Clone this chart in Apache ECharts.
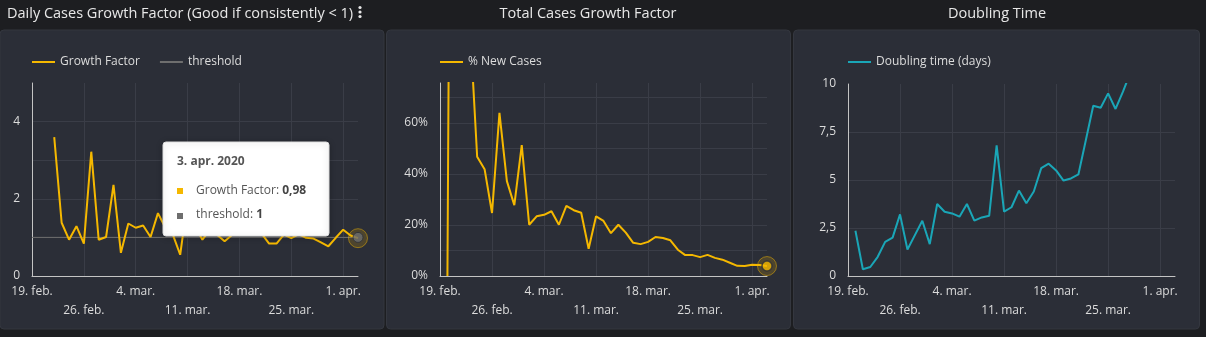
<!DOCTYPE html>
<html><head><meta charset="utf-8">
<script src="https://cdn.jsdelivr.net/npm/echarts@6/dist/echarts.min.js"></script>
<style>html,body{margin:0;padding:0;background:#1d1e21;overflow:hidden}#c{width:1206px;height:337px}</style>
</head><body><div id="c"></div>
<script>
const dates = ['2020-02-19','2020-02-20','2020-02-21','2020-02-22','2020-02-23','2020-02-24','2020-02-25','2020-02-26','2020-02-27','2020-02-28','2020-02-29',
'2020-03-01','2020-03-02','2020-03-03','2020-03-04','2020-03-05','2020-03-06','2020-03-07','2020-03-08','2020-03-09','2020-03-10','2020-03-11','2020-03-12','2020-03-13','2020-03-14','2020-03-15','2020-03-16','2020-03-17','2020-03-18','2020-03-19','2020-03-20','2020-03-21','2020-03-22','2020-03-23','2020-03-24','2020-03-25','2020-03-26','2020-03-27','2020-03-28','2020-03-29','2020-03-30','2020-03-31',
'2020-04-01','2020-04-02','2020-04-03'];
const monthNames = ['jan.','feb.','mar.','apr.'];
const growthFactor = [null,null,null,3.60,1.38,0.94,1.29,0.84,3.22,0.94,1.01,2.36,0.60,1.36,1.25,1.31,1.01,1.63,1.25,1.08,0.55,1.95,1.28,0.94,1.19,1.06,0.90,1.06,1.15,1.25,1.18,1.10,0.84,0.84,1.07,0.98,1.08,0.99,0.97,0.87,0.77,0.99,1.20,1.05,0.98];
const thresholdValue = 1;
const newCasesPct = [null,0,500,200,100,46.8,41.9,24.7,64.0,37.2,27.8,51.3,20.1,23.4,24.0,25.4,20.1,27.5,25.8,24.8,10.7,23.4,21.6,16.8,20.1,17.0,13.0,12.5,13.4,15.3,14.9,14.0,10.3,8.2,8.2,7.4,8.3,7.1,6.4,5.2,4.0,3.9,4.4,4.3,3.9];
const doublingDays = [null,2.36,0.35,0.47,1.0,1.78,2.0,3.21,1.38,2.13,2.88,1.66,3.75,3.35,3.26,3.09,3.75,2.88,3.05,3.14,6.8,3.35,3.58,4.45,3.79,4.4,5.62,5.85,5.5,4.97,5.08,5.29,7.07,8.87,8.76,9.51,8.70,9.6,10.6,11.8,12.9,13.5,14.8,15.6,16.3];
const growthTickLabels = [0,2,4];
const pctTickLabels = [0,20,40,60];
const doublingTickLabels = [0,2.5,5,7.5,10];

const FONT = "'Open Sans', 'Noto Sans', sans-serif";
const YELLOW = '#f5b800', TEAL = '#1aa6b7', GRAY = '#6e6e6e';
const GRID = '#3a3d47', AXIS = '#c4c4c4', TXT = '#dcdcdc';
const last = dates.length - 1;

function fmtDate(s){ const p = s.split('-'); return (+p[2]) + '. ' + monthNames[+p[1]-1]; }
function xAxis(i){
  return {type:'category', gridIndex:i, data:dates, boundaryGap:false,
    axisLine:{lineStyle:{color:AXIS,width:1}}, axisTick:{show:false},
    axisLabel:{interval:6, color:TXT, fontSize:12, fontFamily:FONT, lineHeight:19, margin:6,
      formatter:(v,idx)=> (idx % 14 === 7 ? '\n' : '') + fmtDate(v)},
    splitLine:{show:true, interval:6, lineStyle:{color:GRID,width:1}}};
}
function yAxis(i, max, interval, fmt){
  return {type:'value', gridIndex:i, min:0, max:max, interval:interval,
    axisLine:{show:true, lineStyle:{color:AXIS,width:1}}, axisTick:{show:false},
    axisLabel:{color:TXT, fontSize:12, fontFamily:FONT, margin:12, formatter:fmt, showMaxLabel:true, padding:[5,0,0,0]},
    splitLine:{show:true, showMaxLine:false, lineStyle:{color:GRID,width:1}}};
}
function legend(left, names){
  return {left:left, top:56, padding:0, itemWidth:23, itemHeight:2, itemGap:20, icon:'rect',
    textStyle:{color:TXT, fontSize:12, fontFamily:FONT, padding:[0,0,0,0]}, data:names};
}
const gfLast = growthFactor[last];
const tipLines = [
  {color:YELLOW, name:'Growth Factor', val: String(gfLast.toFixed(2)).replace('.',',')},
  {color:GRAY, name:'threshold', val: String(thresholdValue)}
];
const lastP = dates[last].split('-');
const tipTitle = (+lastP[2]) + '. ' + monthNames[+lastP[1]-1] + ' ' + lastP[0];
const TZ = 1000;

const chart = echarts.init(document.getElementById('c'), null, {renderer:'canvas'});
chart.setOption({
  animation:false,
  backgroundColor:'#1d1e21',
  textStyle:{fontFamily:FONT},
  graphic:[
    {type:'rect', z:-10, shape:{x:0,y:30,width:384,height:299,r:4}, style:{fill:'#2b2e37', stroke:'#34373f', lineWidth:1}},
    {type:'rect', z:-10, shape:{x:386.5,y:30,width:404,height:299,r:4}, style:{fill:'#2b2e37', stroke:'#34373f', lineWidth:1}},
    {type:'rect', z:-10, shape:{x:793.5,y:30,width:406,height:299,r:4}, style:{fill:'#2b2e37', stroke:'#34373f', lineWidth:1}},
    {type:'text', style:{x:7, y:14, text:'Daily Cases Growth Factor (Good if consistently < 1)', fill:'#e8e8e8', font:'14.5px '+FONT, textVerticalAlign:'middle'}},
    {type:'circle', shape:{cx:360,cy:7.5,r:1.6}, style:{fill:'#e8e8e8'}},
    {type:'circle', shape:{cx:360,cy:12,r:1.6}, style:{fill:'#e8e8e8'}},
    {type:'circle', shape:{cx:360,cy:16.5,r:1.6}, style:{fill:'#e8e8e8'}},
    {type:'text', style:{x:588, y:14, text:'Total Cases Growth Factor', fill:'#e8e8e8', font:'14.5px '+FONT, textAlign:'center', textVerticalAlign:'middle'}},
    {type:'text', style:{x:997, y:14, text:'Doubling Time', fill:'#e8e8e8', font:'14.5px '+FONT, textAlign:'center', textVerticalAlign:'middle'}},
    {type:'group', x:163, y:142, zlevel:1, children:[
      {type:'rect', z:TZ, zlevel:1, shape:{x:0,y:0,width:166,height:94,r:3}, style:{fill:'#ffffff', stroke:'#dddddd', lineWidth:1, shadowBlur:6, shadowColor:'rgba(0,0,0,0.25)', shadowOffsetY:1}},
      {type:'text', z:TZ+1, zlevel:1, style:{x:14, y:20, text:tipTitle, fill:'#555', font:'bold 12px '+FONT, textVerticalAlign:'middle'}},
      {type:'rect', z:TZ+1, zlevel:1, shape:{x:14,y:46,width:6,height:6}, style:{fill:tipLines[0].color}},
      {type:'rect', z:TZ+1, zlevel:1, shape:{x:14,y:71,width:6,height:6}, style:{fill:tipLines[1].color}},
      {type:'text', z:TZ+1, zlevel:1, style:{x:33, y:49, text:'{n|'+tipLines[0].name+': }{b|'+tipLines[0].val+'}', textVerticalAlign:'middle',
        rich:{n:{fill:'#555', font:'12px '+FONT}, b:{fill:'#444', font:'bold 12px '+FONT}}}},
      {type:'text', z:TZ+1, zlevel:1, style:{x:33, y:73, text:'{n|'+tipLines[1].name+': }{b|'+tipLines[1].val+'}', textVerticalAlign:'middle',
        rich:{n:{fill:'#555', font:'12px '+FONT}, b:{fill:'#444', font:'bold 12px '+FONT}}}}
    ]}
  ],
  legend:[
    legend(32, ['Growth Factor','threshold']),
    legend(440, ['% New Cases']),
    legend(848, ['Doubling time (days)'])
  ],
  grid:[
    {left:32, top:83, width:326, height:193},
    {left:440, top:83, width:327, height:193},
    {left:848, top:84, width:327, height:192}
  ],
  xAxis:[xAxis(0), xAxis(1), xAxis(2)],
  yAxis:[
    yAxis(0, 5, 1, v => growthTickLabels.includes(v) ? String(v) : ''),
    yAxis(1, 75.7, 10, v => pctTickLabels.includes(v) ? v + '%' : ''),
    yAxis(2, 10, 2.5, v => doublingTickLabels.includes(v) ? String(v).replace('.',',') : '')
  ],
  series:[
    {name:'threshold', type:'line', xAxisIndex:0, yAxisIndex:0, data:[[dates[0],thresholdValue],[dates[last],thresholdValue]],
      showSymbol:false, lineStyle:{color:GRAY, width:1}, itemStyle:{color:GRAY}, z:2},
    {name:'Growth Factor', type:'line', xAxisIndex:0, yAxisIndex:0, data:growthFactor, showSymbol:false,
      lineStyle:{color:YELLOW, width:2}, itemStyle:{color:YELLOW}, z:3},
    {name:'% New Cases', type:'line', xAxisIndex:1, yAxisIndex:1, data:newCasesPct, showSymbol:false,
      lineStyle:{color:YELLOW, width:2}, itemStyle:{color:YELLOW}, z:3},
    {name:'Doubling time (days)', type:'line', xAxisIndex:2, yAxisIndex:2, data:doublingDays, showSymbol:false,
      lineStyle:{color:TEAL, width:2}, itemStyle:{color:TEAL}, z:3},
    {type:'scatter', xAxisIndex:0, yAxisIndex:0, data:[[dates[last], gfLast]], symbolSize:19, silent:true,
      itemStyle:{color:'rgba(245,184,0,0.22)', borderColor:'rgba(245,184,0,0.6)', borderWidth:1}, z:4},
    {type:'scatter', xAxisIndex:0, yAxisIndex:0, data:[[dates[last], thresholdValue]], symbolSize:10, silent:true,
      itemStyle:{color:GRAY, borderColor:'#2b2e37', borderWidth:1}, z:5},
    {type:'scatter', xAxisIndex:1, yAxisIndex:1, data:[[dates[last], newCasesPct[last]]], symbolSize:19, silent:true,
      itemStyle:{color:'rgba(245,184,0,0.22)', borderColor:'rgba(245,184,0,0.6)', borderWidth:1}, z:4},
    {type:'scatter', xAxisIndex:1, yAxisIndex:1, data:[[dates[last], newCasesPct[last]]], symbolSize:10, silent:true,
      itemStyle:{color:YELLOW, borderColor:'#2b2e37', borderWidth:1.5}, z:5}
  ]
});
</script></body></html>
